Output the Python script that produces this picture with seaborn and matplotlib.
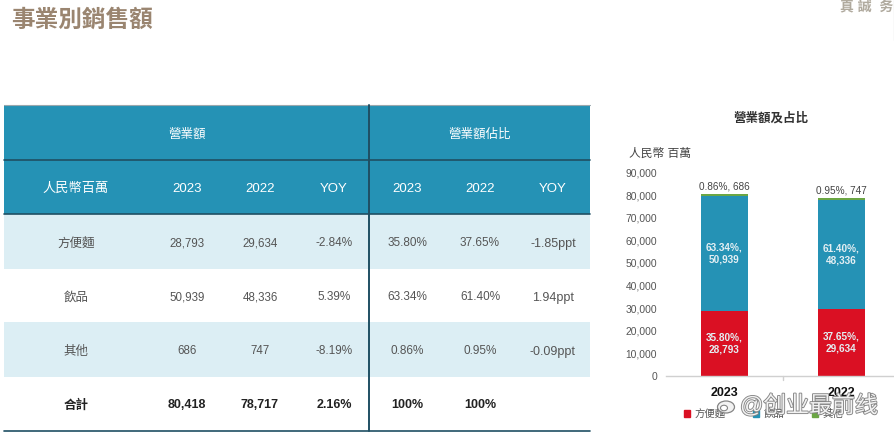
import numpy as np
import pandas as pd
import matplotlib
matplotlib.use("Agg")
import matplotlib.pyplot as plt
import matplotlib.patheffects as path_effects
from matplotlib.patches import Ellipse, Patch
import seaborn as sns

# ── Data ──────────────────────────────────────────────────────────────────────

years = ["2023", "2022"]
segments = ["方便麵", "飲品", "其他"]
sales_noodles = [28793, 29634]
sales_drinks = [50939, 48336]
sales_other = [686, 747]
share_noodles = ["35.80%", "37.65%"]
share_drinks = ["63.34%", "61.40%"]
share_other = ["0.86%", "0.95%"]
y_ticks = [0, 10000, 20000, 30000, 40000, 50000, 60000, 70000, 80000, 90000]

table_head = ["人民幣百萬", "2023", "2022", "YOY", "2023", "2022", "YOY"]
table_rows = [
    ["方便麵", "28,793", "29,634", "-2.84%", "35.80%", "37.65%", "-1.85ppt"],
    ["飲品", "50,939", "48,336", "5.39%", "63.34%", "61.40%", "1.94ppt"],
    ["其他", "686", "747", "-8.19%", "0.86%", "0.95%", "-0.09ppt"],
    ["合計", "80,418", "78,717", "2.16%", "100%", "100%", ""],
]

# ── Style ─────────────────────────────────────────────────────────────────────

W, H = 895, 437
TEAL = "#2592B5"
BAND = "#DCEEF4"
DARK = "#1F4F63"
RED = "#DA1023"
GREEN = "#6BA644"
TEXT = "#555555"

sns.set_theme(style="white")
plt.rcParams["font.family"] = ["Liberation Sans", "Noto Sans CJK TC", "DejaVu Sans"]

fig = plt.figure(figsize=(W / 100, H / 100), dpi=100, facecolor="white")

# full figure layer in pixel coordinates for the table and page text
page = fig.add_axes([0, 0, 1, 1])
page.set_xlim(0, W)
page.set_ylim(H, 0)
page.axis("off")

page.text(11, 20, "事業別銷售額", fontsize=17, fontweight="bold", color="#9A8570",
          ha="left", va="center")
page.text(840, 6, "真 誠  务 實", fontsize=10, fontweight="bold", color="#B0AA9E",
          ha="left", va="center", clip_on=True)
page.plot([894, 894], [0, 40], color="#E2E2E2", lw=1)

# ── Table ─────────────────────────────────────────────────────────────────────

left, right, split = 4, 590, 369
col_x = [76, 187, 260, 334, 407, 480, 553]
col_size = [9, 8.3, 8.3, 8.5, 8.5, 8.5, 9]
row_edges = [105, 160, 214, 269, 322, 377, 430]


def band(i, color):
    page.fill_between([left, right], row_edges[i], row_edges[i + 1], color=color, lw=0)


band(0, TEAL)
band(1, TEAL)
band(2, BAND)
band(4, BAND)

page.plot([left, right], [105, 105], color="#9AA7AD", lw=0.8)
page.plot([left, right], [159.5, 159.5], color=DARK, lw=1.2)
page.plot([left, right], [213.5, 213.5], color=DARK, lw=1.2)
page.plot([left, right], [430.5, 430.5], color=DARK, lw=1.2)
page.plot([split, split], [105, 431], color=DARK, lw=1.4)

page.text(187, 134.5, "營業額", fontsize=9, color="white", ha="center", va="center")
page.text(480, 134.5, "營業額佔比", fontsize=9, color="white", ha="center", va="center")
for x, label in zip(col_x, table_head):
    page.text(x, 189, label, fontsize=9.5, color="white", ha="center", va="center")

for i, row in enumerate(table_rows):
    y = (row_edges[i + 2] + row_edges[i + 3]) / 2 + 2
    total = row[0] == "合計"
    for x, size, cell in zip(col_x, col_size, row):
        page.text(x, y, cell, fontsize=9 if total else size, ha="center", va="center",
                  color="#222222" if total else TEXT,
                  fontweight="bold" if total else "normal")

# ── Stacked bars ──────────────────────────────────────────────────────────────

df = pd.DataFrame({
    "year": years,
    "noodles": sales_noodles,
    "drinks": sales_drinks,
    "other": sales_other,
})

ax = fig.add_axes([666 / W, (H - 376) / H, 234 / W, 203.5 / H])
ax.patch.set_alpha(0)

bottom = np.zeros(len(years))
stack = [
    ("noodles", RED, share_noodles),
    ("drinks", TEAL, share_drinks),
    ("other", GREEN, share_other),
]
for col, color, shares in stack:
    sns.barplot(data=df, x="year", y=col, order=years, color=color, width=0.4,
                saturation=1, bottom=bottom, linewidth=0, ax=ax)
    container = ax.containers[-1]
    values = df[col].to_numpy()
    if col == "other":
        labels = [f"{s}, {v:,}" for s, v in zip(shares, values)]
        ax.bar_label(container, labels=labels, label_type="edge", padding=2,
                     fontsize=7.2, color="#444444")
    else:
        labels = [f"{s},\n{v:,}" for s, v in zip(shares, values)]
        ax.bar_label(container, labels=labels, label_type="center", fontsize=7.2,
                     fontweight="bold", color="#E4EFF3", linespacing=1.3)
    bottom = bottom + values

ax.set_ylim(0, 90000)
ax.set_yticks(y_ticks)
ax.set_yticklabels([f"{t:,}" for t in y_ticks], fontsize=7.4, color=TEXT)
ax.set_xticks([0, 1])
ax.set_xticklabels(years, fontsize=9, fontweight="bold", color="#111111")
ax.set_xlabel("")
ax.set_ylabel("")
ax.tick_params(axis="y", length=0, pad=6.5)
ax.tick_params(axis="x", length=0, pad=8)
for side in ["top", "right", "left"]:
    ax.spines[side].set_visible(False)
ax.spines["bottom"].set_color("#D0D0D0")
ax.spines["bottom"].set_linewidth(1)
ax.plot([0.5, 0.5], [0, -1800], color="#D0D0D0", lw=1, clip_on=False)
ax.set_xlim(-0.5, 1.5)

page.text(771, 118, "營業額及占比", fontsize=9, fontweight="bold", color="#333333",
          ha="center", va="center")
page.text(629, 153.5, "人民幣 百萬", fontsize=8.5, color="#444444", ha="left", va="center")

ax.legend(
    handles=[Patch(color=c, label=s) for s, c in zip(segments, [RED, TEAL, GREEN])],
    loc="center left",
    bbox_to_anchor=((684 - 666) / 234, (376 - 414) / 203.5),
    ncols=3, frameon=False, fontsize=7.5, labelcolor=TEXT,
    handlelength=0.55, handleheight=0.55, handletextpad=0.5, columnspacing=2.6,
    borderpad=0, borderaxespad=0,
)

# watermark over the legend
page.set_zorder(ax.get_zorder() + 1)
page.patch.set_alpha(0)
wm = page.text(740, 406, "@创业最前线", fontsize=16.5, color="#F2F2F2",
               ha="left", va="center")
wm.set_path_effects([path_effects.withStroke(linewidth=1.3, foreground="#858585")])
page.add_patch(Ellipse((726, 407), 17, 12, fc="#F2F2F2", ec="#858585", lw=0.9))
page.add_patch(Ellipse((724, 408), 7, 5.5, fc="white", ec="#858585", lw=0.8))

fig.savefig("out.png", dpi=100)
